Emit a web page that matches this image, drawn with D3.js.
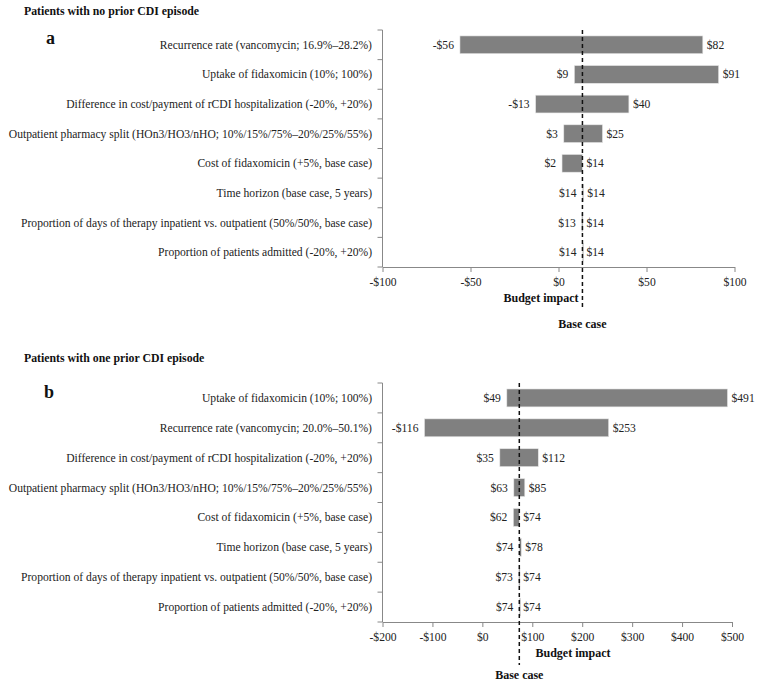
<!DOCTYPE html>
<html><head><meta charset="utf-8">
<script src="https://cdn.jsdelivr.net/npm/d3@7"></script>
<style>body{margin:0;background:#fff}svg{display:block}text{font-family:"Liberation Serif","Times New Roman",serif}</style>
</head><body><svg id="c" width="757" height="682"></svg>
<script>
// ---- data ----
const categoriesA = [
  "Recurrence rate (vancomycin; 16.9%\u201328.2%)",
  "Uptake of fidaxomicin (10%; 100%)",
  "Difference in cost/payment of rCDI hospitalization (-20%, +20%)",
  "Outpatient pharmacy split (HOn3/HO3/nHO; 10%/15%/75%\u201320%/25%/55%)",
  "Cost of fidaxomicin (+5%, base case)",
  "Time horizon (base case, 5 years)",
  "Proportion of days of therapy inpatient vs. outpatient (50%/50%, base case)",
  "Proportion of patients admitted (-20%, +20%)"
];
const lowA  = [-56, 9, -13, 3, 2, 13.6, 13.2, 13.6];
const highA = [82, 91, 40, 25, 13.6, 14.1, 13.6, 13.6];
const baseA = 13.6;
const ticksA = [-100, -50, 0, 50, 100];

const categoriesB = [
  "Uptake of fidaxomicin (10%; 100%)",
  "Recurrence rate (vancomycin; 20.0%\u201350.1%)",
  "Difference in cost/payment of rCDI hospitalization (-20%, +20%)",
  "Outpatient pharmacy split (HOn3/HO3/nHO; 10%/15%/75%\u201320%/25%/55%)",
  "Cost of fidaxomicin (+5%, base case)",
  "Time horizon (base case, 5 years)",
  "Proportion of days of therapy inpatient vs. outpatient (50%/50%, base case)",
  "Proportion of patients admitted (-20%, +20%)"
];
const lowB  = [49, -116, 35, 63, 62, 74, 73, 74];
const highB = [491, 253, 112, 85, 74, 78, 74, 74];
const baseB = 74;
const ticksB = [-200, -100, 0, 100, 200, 300, 400, 500];

const FONT = "Liberation Serif, Times New Roman, serif";
const FS = 11.6;
const svg = d3.select("#c");
const money = v => (Math.round(v) < 0 ? "-$" + Math.abs(Math.round(v)) : "$" + Math.round(v));

function panel(o) {
  const g = svg.append("g").attr("font-family", FONT);
  g.append("text").attr("x", 24).attr("y", o.titleY).attr("font-size", 11.8).attr("font-weight", "bold")
    .attr("fill", "#111").text(o.title);
  g.append("text").attr("x", o.letterX).attr("y", o.letterY).attr("font-size", 18).attr("font-weight", "bold")
    .attr("fill", "#111").text(o.letter);

  const x = d3.scaleLinear().domain(o.domain).range([382.5, o.right]);
  const y = d3.scaleBand().domain(o.cats).range([o.top, o.bottom]).paddingInner(0.4).paddingOuter(0.2);
  const yb = d3.scaleBand().domain(o.cats).range([o.top, o.bottom]);

  g.append("line").attr("x1", x.range()[0]).attr("x2", x.range()[0]).attr("y1", o.top).attr("y2", o.bottom)
    .attr("stroke", "#888");
  const bounds = o.cats.map(c => yb(c)).concat([o.bottom]);
  g.selectAll(".yt").data(bounds).join("line")
    .attr("x1", x.range()[0] - 5).attr("x2", x.range()[0]).attr("y1", d => d).attr("y2", d => d)
    .attr("stroke", "#888");
  g.selectAll(".yl").data(o.cats).join("text")
    .attr("x", 372).attr("y", d => yb(d) + yb.bandwidth() / 2).attr("dy", "0.35em")
    .attr("text-anchor", "end").attr("font-size", FS).attr("fill", "#222").text(d => d);

  const xa = g.append("g").attr("transform", `translate(0,${o.bottom})`)
    .call(d3.axisBottom(x).tickValues(o.ticks).tickSize(5).tickSizeOuter(0).tickPadding(6)
      .tickFormat(v => v < 0 ? "-$" + Math.abs(v) : "$" + v));
  xa.attr("font-family", FONT);
  xa.select(".domain").attr("stroke", "#888");
  xa.selectAll(".tick line").attr("stroke", "#888");
  xa.selectAll(".tick text").attr("font-size", FS).attr("fill", "#222").attr("font-family", FONT);

  const rows = o.cats.map((c, i) => ({ c, lo: o.low[i], hi: o.high[i] }));
  g.selectAll(".bar").data(rows).join("rect")
    .attr("x", d => x(d.lo)).attr("width", d => Math.max(1.2, x(d.hi) - x(d.lo)))
    .attr("y", d => y(d.c)).attr("height", y.bandwidth())
    .attr("fill", "#808080").attr("stroke", "#e6e6e6").attr("stroke-width", 0.6);
  g.selectAll(".lo").data(rows).join("text")
    .attr("x", d => x(d.lo) - 6).attr("y", d => y(d.c) + y.bandwidth() / 2).attr("dy", "0.35em")
    .attr("text-anchor", "end").attr("font-size", FS).attr("fill", "#222").text(d => money(d.lo));
  g.selectAll(".hi").data(rows).join("text")
    .attr("x", d => x(d.hi) + 4).attr("y", d => y(d.c) + y.bandwidth() / 2).attr("dy", "0.35em")
    .attr("text-anchor", "start").attr("font-size", FS).attr("fill", "#222").text(d => money(d.hi));

  g.append("line").attr("x1", x(o.base)).attr("x2", x(o.base)).attr("y1", o.top).attr("y2", o.dashEnd)
    .attr("stroke", "#111").attr("stroke-width", 1.5).attr("stroke-dasharray", "4,3");

  g.append("text").attr("x", o.biX).attr("y", o.bottom + 35).attr("text-anchor", "middle")
    .attr("font-size", 12).attr("font-weight", "bold").attr("fill", "#111").text("Budget impact");
  g.append("text").attr("x", x(o.base)).attr("y", o.bcY).attr("text-anchor", "middle")
    .attr("font-size", 12).attr("font-weight", "bold").attr("fill", "#111").text("Base case");
}

panel({ title: "Patients with no prior CDI episode", titleY: 15, letter: "a", letterX: 46, letterY: 44,
  cats: categoriesA, low: lowA, high: highA, base: baseA, domain: [-100, 100], ticks: ticksA, right: 734.5,
  top: 30, bottom: 267, dashEnd: 309, bcY: 328, biX: 541 });
panel({ title: "Patients with one prior CDI episode", titleY: 362, letter: "b", letterX: 44, letterY: 398,
  cats: categoriesB, low: lowB, high: highB, base: baseB, domain: [-200, 500], ticks: ticksB, right: 732,
  top: 383, bottom: 622, dashEnd: 665, bcY: 679, biX: 573 });
</script></body></html>
